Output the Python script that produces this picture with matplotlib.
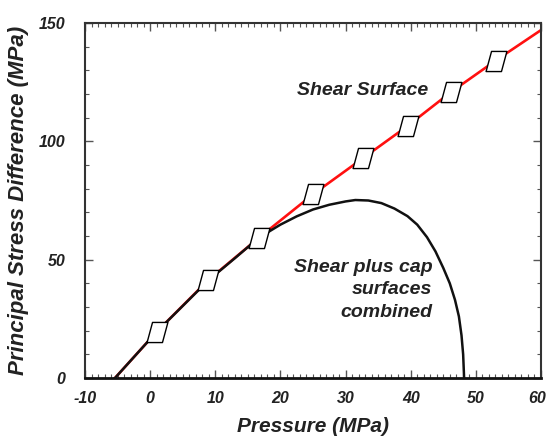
import matplotlib
matplotlib.use("Agg")
import matplotlib.pyplot as plt
import matplotlib.transforms as mtransforms
from matplotlib.path import Path
from matplotlib.ticker import MultipleLocator

# Shear surface (red line)
shear_x = [-5.4, 1.0, 8.93, 16.71, 25.05, 32.63, 39.52, 46.13, 53.03, 60.0]
shear_y = [0.0, 19.5, 41.4, 59.3, 77.7, 92.8, 106.5, 120.7, 134.1, 147.0]

# Data points (open markers) on the shear surface
point_x = [1.0, 8.93, 16.71, 25.05, 32.63, 39.52, 46.13, 53.03]
point_y = [19.5, 41.4, 59.3, 77.7, 92.8, 106.5, 120.7, 134.1]

# Shear plus cap surfaces combined (black curve)
cap_x = [-5.4, 1.0, 9.0, 13.0, 16.7, 18.5, 20.0, 22.5, 25.0, 27.5, 30.0,
         31.5, 33.5, 35.5, 37.5, 39.5, 41.0, 42.5, 43.8, 45.0, 46.0, 46.8,
         47.4, 47.8, 48.05, 48.2]
cap_y = [0.0, 19.5, 41.4, 50.6, 59.3, 62.3, 64.8, 68.3, 71.2, 73.2, 74.6,
         75.2, 75.0, 73.9, 71.6, 68.4, 64.8, 59.5, 53.5, 46.5, 40.0, 33.0,
         26.0, 18.0, 10.0, 0.0]

x_ticks = [-10, 0, 10, 20, 30, 40, 50, 60]
y_ticks = [0, 50, 100, 150]

plt.rcParams['font.family'] = ['Liberation Sans', 'DejaVu Sans']
plt.rcParams['font.weight'] = 'bold'
plt.rcParams['font.style'] = 'italic'
plt.rcParams['axes.unicode_minus'] = False

# skewed square marker
marker = Path([(-4.2, 8.5), (8.8, 8.5), (4.2, -8.5), (-8.8, -8.5), (-4.2, 8.5)],
              [Path.MOVETO, Path.LINETO, Path.LINETO, Path.LINETO, Path.CLOSEPOLY])

fig = plt.figure(figsize=(5.47, 4.43), dpi=100)
ax = fig.add_axes([0.1554, 0.1467, 0.8336, 0.8014])

ax.plot(shear_x, shear_y, color='#ff1010', lw=1.9, zorder=2)
ax.plot(cap_x, cap_y, color='#111111', lw=1.8, zorder=3)
ax.plot(point_x, point_y, ls='none', marker=marker, markersize=15,
        markerfacecolor='white', markeredgecolor='black', markeredgewidth=1.0,
        zorder=4)

ax.text(42.65, 121.4, "Shear Surface", ha='right', va='center',
        fontsize=14, fontweight='bold', fontstyle='italic', color='#222222')
ax.text(43.3, 37.2, "Shear plus cap\nsurfaces\ncombined", ha='right',
        va='center', fontsize=14, fontweight='bold', fontstyle='italic',
        color='#222222', linespacing=1.4, multialignment='right')

ax.set_xlim(-10, 60)
ax.set_ylim(0, 150)
ax.set_xticks(x_ticks)
ax.set_yticks(y_ticks)
ax.xaxis.set_minor_locator(MultipleLocator(1))
ax.yaxis.set_minor_locator(MultipleLocator(10))
ax.tick_params(which='both', direction='in', top=True, right=True,
               color='#555555')
ax.tick_params(which='major', length=6, width=1.0, labelsize=11.5)
ax.tick_params(which='minor', length=3, width=0.8)
ax.tick_params(axis='x', which='major', pad=9)
ax.tick_params(axis='y', which='major', pad=14)
for lab in ax.get_xticklabels() + ax.get_yticklabels():
    lab.set_fontweight('bold')
    lab.set_fontstyle('italic')
    lab.set_color('#222222')

# keep the last x label inside the figure
last = ax.get_xticklabels()[-1]
last.set_transform(last.get_transform() +
                   mtransforms.ScaledTranslation(-4 / 100, 0, fig.dpi_scale_trans))

for side in ['top', 'right', 'left']:
    ax.spines[side].set_linewidth(1.5)
    ax.spines[side].set_color('#333333')
ax.spines['bottom'].set_linewidth(2.0)
ax.spines['bottom'].set_color('#111111')

ax.set_xlabel("Pressure (MPa)", fontsize=15, fontweight='bold',
              fontstyle='italic', color='#222222', labelpad=8)
ax.set_ylabel("Principal Stress Difference (MPa)", fontsize=16,
              fontweight='bold', fontstyle='italic', color='#222222',
              labelpad=7)

fig.savefig("out.png", dpi=100)
